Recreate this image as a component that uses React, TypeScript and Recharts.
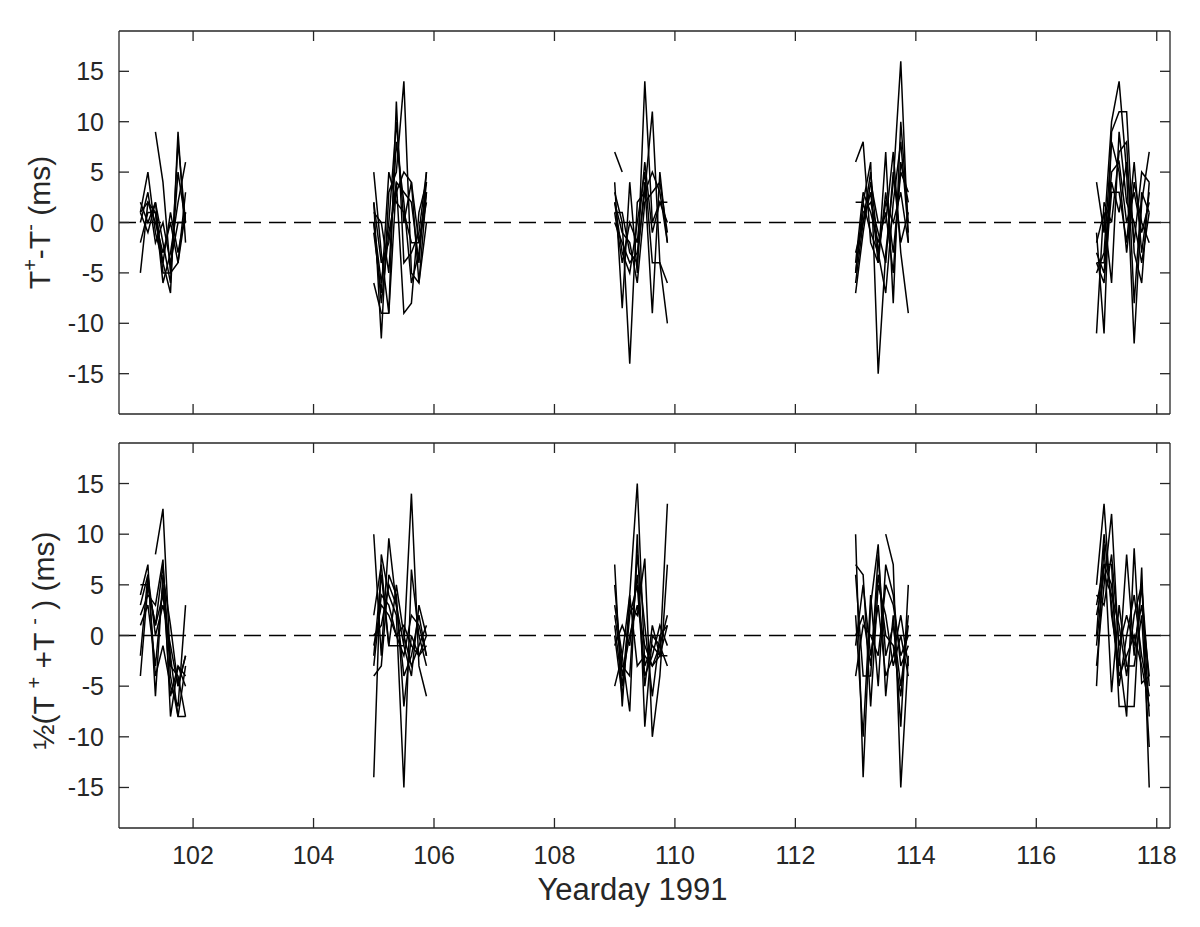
import { LineChart, Line, XAxis, YAxis, ReferenceLine } from 'recharts';

// sample times (yearday) of each daily burst, 3-hourly
const days101 = [101.125, 101.25, 101.375, 101.5, 101.625, 101.75, 101.875];
const days105 = [105.0, 105.125, 105.25, 105.375, 105.5, 105.625, 105.75, 105.875];
const days109 = [109.0, 109.125, 109.25, 109.375, 109.5, 109.625, 109.75, 109.875];
const days113 = [113.0, 113.125, 113.25, 113.375, 113.5, 113.625, 113.75, 113.875];
const days117 = [117.0, 117.125, 117.25, 117.375, 117.5, 117.625, 117.75, 117.875];

type Row = (number | null)[];

// T+ - T- (ms), one row per ray path
const diff101: Row[] = [
  [-5, 2, 1, -6, -3, 2, 6],
  [1, 5, -1, -4, -7, 9, -2],
  [2, 0, 2, -5, -5, -4, 1],
  [0, 3, -2, 0, -4, 0, 0],
  [-2, 1, 1, -4, 1, -3, 1],
  [null, null, 9, 4, -5, 5, 0],
  [1, -1, 2, -2, -6, 8, 0],
  [1, 2, 0, -3, 0, -4, 3],
];
const diff105: Row[] = [
  [5, -3, -9, 12, -4, -3, -1, 5],
  [2, -11.5, 3, 5, 14, -5, -6, 3],
  [-6, -9, -9, 4, -9, -8, 1, 4],
  [0, -6, 0, 10, 0, 4, -2, 2],
  [2, -4, -2, 4, 3, 2, -4, 5],
  [-1, -7, 5, 2, 1, -2, -2, 3],
  [0, -8, -1, 3, 5, 4, -6, 0],
  [1, 0, -5, 8, 2, -6, -3, 4],
];
const diff109: Row[] = [
  [7, 5, null, null, null, null, null, null],
  [4, -8.5, 4, -5, 14, 0, 2, 2],
  [3, 0, -14, 2, 3, 11, -4, -10],
  [1, 1, -3, -4, 4, -9, 5, -2],
  [2, -3, -5, 0, 5, -4, -4, -6],
  [0, -2, -4, -3, 3, 5, 3, -2],
  [2, -1, -2, -6, 2, 3, 4, -1],
  [1, -4, 0, -2, 6, -1, 2, 0],
];
const diff113: Row[] = [
  [6, 8, -2, -4, 3, -3, 5, 3],
  [2, 2, 6, -15, -3, 4, 16, -2],
  [-7, -1, 4, 0, 0, 7, -3, -9],
  [-6, 0, 3, -4, 7, -8, 10, 0],
  [-5, 2, -1, -3, -7, 2, 8, -1],
  [-4, 3, 1, -2, 1, -5, 6, 2],
  [-5, 1, 2, -1, -4, 5, -2, 1],
  [-3, 0, 5, -3, 2, 0, 3, -2],
];
const diff117: Row[] = [
  [4, -1, 10, 14, 5, -12, 2, 7],
  [-1, -11, 9, 11, 11, -3, -6, 4],
  [-4, -6, 3, 3, -2, 6, -3, 3],
  [-5, -3, 8, 5, -3, 4, 0, -2],
  [-11, 2, 0, 7, 8, -8, 3, 1],
  [-3, -5, 4, 1, 6, -2, 5, 4],
  [-2, 1, -6, 9, 2, 0, -4, 1],
  [-4, -4, 5, 6, 0, 3, -1, 2],
];

// 1/2 (T+ + T-) (ms)
const mean101: Row[] = [
  [5, 5, 1, 7, -4, -8, -8],
  [4, 7, -6, 6, 1, -5, -2],
  [2, 4, 3, 7.5, -8, -3, -5],
  [-2, 6, -4, -1, -5, -7, 3],
  [-4, 5, 1, 4, -2, -8, -3],
  [null, null, 8, 12.5, -3, -4, -8],
  [1, 3, -3, 5, -6, -3, -4],
  [3, 6, 0, 3, -1, -5, -2],
];
const mean105: Row[] = [
  [10, -2, 9.6, 3, -1, 14, -3, -6],
  [-14, 8, 4, 2, -15, 6.5, 0, -3],
  [-2, 6, -1, -1, -1, -4, 3, 0],
  [-4, -3, 6, 4, -7, 0, -2, -1],
  [-1, 3, 2, 0, -2, 2, 1, -2],
  [2, 7, -1, 5, 0, -3, -1, 1],
  [0, 1, 5, 3, -4, -2, 2, -2],
  [-3, 4, 3, 0, 1, -1, -2, 0],
];
const mean109: Row[] = [
  [7, -7, 4, 15, -3, -1, -2, 13],
  [3, -2, -7.5, 10, -9, 0, -1, -3],
  [1, -5, 3, 2, 7.6, -10, -4, 7],
  [-5, -2, 4, -3, -2, -3, -1, 2],
  [0, -6, 2, 5, -5, 1, -2, -2],
  [2, -3, -4, 8, 1, -6, 0, 1],
  [-1, 1, -1, 6, -4, -2, 1, -1],
  [5, -4, 0, 3, -1, -3, -2, 1],
];
const mean113: Row[] = [
  [10, -14, 3, 9, -6, 2, -9, 5],
  [7, 6, -7, 5, 2, -3, 0, -4],
  [6, -4, -4, 8, -2, 1, -5, 1],
  [2, -10, 4, -5, 7, 4, -3, -1],
  [-1, 5, -2, 3, -4, -2, 2, -3],
  [null, null, null, null, 10, 7, -15, -2],
  [0, 2, -3, 6, 0, -1, -6, 2],
  [-4, 1, 0, -2, 5, 3, -2, 0],
];
const mean117: Row[] = [
  [5, 13, 2, -3, 8, -2, 5, -8],
  [3, 7, 7, -7, -7, -7, 6.7, -15],
  [-3, 5, 12, -2, -8, 8.6, -4.7, -4],
  [-5, 9, -5.6, 3, -3, -3, 2, -11],
  [0, 10, 3, -5, 0, 4, -2, -6],
  [2, 6, 4, 1, -4, 2, 5, -5],
  [4, 3, 8, -1, 2, -1, 3, -4],
  [-1, 7, 5, -4, -2, 0, -3, -7],
];

const xTicks = [102, 104, 106, 108, 110, 112, 114, 116, 118];
const yTicks = [-15, -10, -5, 0, 5, 10, 15];
const xDomain: [number, number] = [100.77, 118.22];
const yDomain: [number, number] = [-19, 19];

const AXIS = '#262626';
const FONT = '"Liberation Sans", Arial, Helvetica, sans-serif';
const TICK_LEN = 10;

const toSeries = (days: number[], rows: Row[]) =>
  rows.map((row) => row.map((v, i) => ({ day: days[i], v })));

const topSeries = [
  ...toSeries(days101, diff101),
  ...toSeries(days105, diff105),
  ...toSeries(days109, diff109),
  ...toSeries(days113, diff113),
  ...toSeries(days117, diff117),
];
const bottomSeries = [
  ...toSeries(days101, mean101),
  ...toSeries(days105, mean105),
  ...toSeries(days109, mean109),
  ...toSeries(days113, mean113),
  ...toSeries(days117, mean117),
];

const lineStyle = { stroke: AXIS, strokeWidth: 1.3 };

const bottomTick = (labels: boolean) => (p: any) => (
  <g>
    <line x1={p.x} x2={p.x} y1={p.y} y2={p.y - TICK_LEN} {...lineStyle} />
    {labels && (
      <text x={p.x} y={p.y + 36} textAnchor="middle" fontSize={25} fontFamily={FONT} fill={AXIS}>
        {p.payload.value}
      </text>
    )}
  </g>
);
const topTick = (p: any) => (
  <line x1={p.x} x2={p.x} y1={p.y} y2={p.y + TICK_LEN} {...lineStyle} />
);
const leftTick = (p: any) => (
  <g>
    <line x1={p.x} x2={p.x + TICK_LEN} y1={p.y} y2={p.y} {...lineStyle} />
    <text x={p.x - 15} y={p.y + 9} textAnchor="end" fontSize={25} fontFamily={FONT} fill={AXIS}>
      {p.payload.value}
    </text>
  </g>
);
const rightTick = (p: any) => (
  <line x1={p.x} x2={p.x - TICK_LEN} y1={p.y} y2={p.y} {...lineStyle} />
);

const sup = { fontSize: 20 };

const DiffLabel = (props: any) => {
  const vb = props.viewBox || { y: 31, height: 383 };
  const cy = vb.y + vb.height / 2;
  return (
    <text x={50} y={cy} transform={`rotate(-90, 50, ${cy})`} textAnchor="middle" fontSize={30} fontFamily={FONT} fill={AXIS}>
      <tspan>T</tspan>
      <tspan {...sup} dy={-13}>+</tspan>
      <tspan dy={13}>-T</tspan>
      <tspan {...sup} dy={-13}>-</tspan>
      <tspan dy={13}> (ms)</tspan>
    </text>
  );
};

const MeanLabel = (props: any) => {
  const vb = props.viewBox || { y: 13, height: 385 };
  const cy = vb.y + vb.height / 2 + 5;
  return (
    <text x={54} y={cy} transform={`rotate(-90, 54, ${cy})`} textAnchor="middle" fontSize={30} fontFamily={FONT} fill={AXIS}>
      <tspan>½(T </tspan>
      <tspan {...sup} dy={-13}>+</tspan>
      <tspan dy={13}> +T </tspan>
      <tspan {...sup} dy={-13}>-</tspan>
      <tspan dy={13}> ) (ms)</tspan>
    </text>
  );
};

const XLabel = (props: any) => {
  const vb = props.viewBox || { x: 119, y: 398, width: 1051 };
  return (
    <text x={vb.x + vb.width / 2 - 12} y={vb.y + 72} textAnchor="middle" fontSize={31} fontFamily={FONT} fill={AXIS}>
      Yearday 1991
    </text>
  );
};

interface PanelProps {
  series: { day: number; v: number | null }[][];
  top: number;
  height: number;
  marginTop: number;
  axisHeight: number;
  showLabels: boolean;
  yLabel: any;
}

const Panel = ({ series, top, height, marginTop, axisHeight, showLabels, yLabel }: PanelProps) => (
  <div style={{ position: 'absolute', left: 0, top }}>
    <LineChart width={1200} height={height} margin={{ top: marginTop, right: 29, bottom: 0, left: 0 }}>
      <XAxis
        dataKey="day"
        type="number"
        domain={xDomain}
        ticks={xTicks}
        allowDataOverflow
        interval={0}
        height={axisHeight}
        tickSize={0}
        tickMargin={0}
        tickLine={false}
        axisLine={lineStyle}
        tick={bottomTick(showLabels)}
        label={showLabels ? <XLabel /> : undefined}
      />
      <XAxis
        xAxisId="top"
        orientation="top"
        dataKey="day"
        type="number"
        domain={xDomain}
        ticks={xTicks}
        allowDataOverflow
        interval={0}
        height={1}
        tickSize={0}
        tickMargin={0}
        tickLine={false}
        axisLine={lineStyle}
        tick={topTick}
      />
      <YAxis
        type="number"
        domain={yDomain}
        ticks={yTicks}
        allowDataOverflow
        interval={0}
        width={119}
        tickSize={0}
        tickMargin={0}
        tickLine={false}
        axisLine={lineStyle}
        tick={leftTick}
        label={yLabel}
      />
      <YAxis
        yAxisId="right"
        orientation="right"
        type="number"
        domain={yDomain}
        ticks={yTicks}
        allowDataOverflow
        interval={0}
        width={1}
        tickSize={0}
        tickMargin={0}
        tickLine={false}
        axisLine={lineStyle}
        tick={rightTick}
      />
      <ReferenceLine y={0} stroke="#000" strokeWidth={1.4} strokeDasharray="17 8" />
      {series.map((s, i) => (
        <Line
          key={i}
          data={s}
          dataKey="v"
          stroke="#000"
          strokeWidth={1.5}
          dot={false}
          activeDot={false}
          connectNulls={false}
          isAnimationActive={false}
        />
      ))}
    </LineChart>
  </div>
);

export default function App() {
  return (
    <div style={{ position: 'absolute', left: 0, top: 0, width: 1200, height: 927, background: '#fff' }}>
      <Panel series={topSeries} top={0} height={430} marginTop={30} axisHeight={16} showLabels={false} yLabel={<DiffLabel />} />
      <Panel series={bottomSeries} top={430} height={497} marginTop={12} axisHeight={99} showLabels yLabel={<MeanLabel />} />
    </div>
  );
}
